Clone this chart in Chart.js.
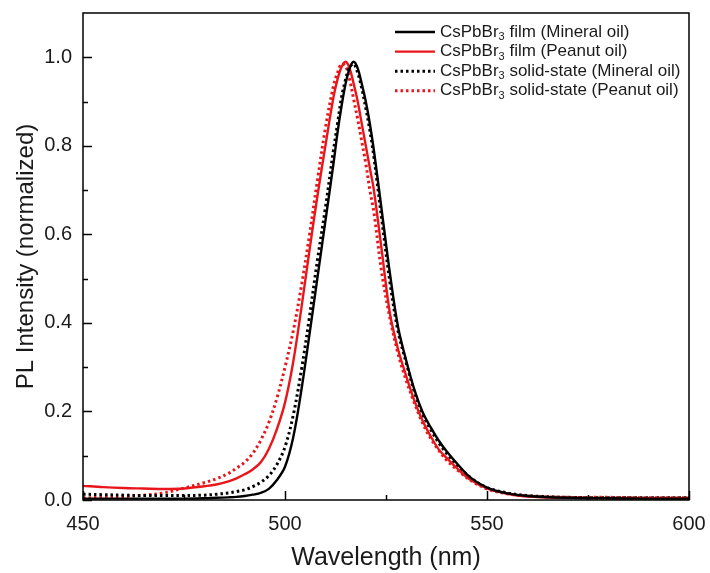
<!DOCTYPE html>
<html>
<head>
<meta charset="utf-8">
<script src="https://cdn.jsdelivr.net/npm/chart.js@4.4.1/dist/chart.umd.min.js"></script>
<style>
  html, body { margin: 0; padding: 0; background: #fff; }
  #wrap { width: 710px; height: 573px; }
</style>
</head>
<body>
<div id="wrap"><canvas id="pl" width="710" height="573"></canvas></div>
<script>
// wavelength grid (nm) shared by all four spectra
const wavelength = [450, 455, 460, 465, 470, 475, 480, 483, 486, 488, 490, 492, 494, 496, 498,
    500, 502, 504, 506, 508, 510, 512, 513, 514, 515, 516, 517, 518, 519, 520, 521, 522,
    524, 526, 528, 530, 532, 534, 536, 538, 540, 543, 546, 550, 555, 560, 570, 580, 590, 600];

const filmMineral = [0.003, 0.003, 0.003, 0.003, 0.003, 0.003, 0.004, 0.005, 0.006, 0.007, 0.009, 0.012, 0.016, 0.025, 0.045,
    0.075, 0.14, 0.245, 0.37, 0.50, 0.63, 0.76, 0.83, 0.89, 0.94, 0.975, 0.99, 0.975, 0.94, 0.90, 0.85, 0.79,
    0.65, 0.51, 0.39, 0.315, 0.25, 0.20, 0.165, 0.135, 0.11, 0.078, 0.05, 0.028, 0.015, 0.009, 0.005, 0.004, 0.003, 0.003];

const filmPeanut = [0.032, 0.029, 0.027, 0.026, 0.025, 0.026, 0.031, 0.035, 0.042, 0.049, 0.058, 0.069, 0.085, 0.115, 0.16,
    0.22, 0.31, 0.43, 0.56, 0.685, 0.80, 0.91, 0.95, 0.978, 0.99, 0.975, 0.94, 0.90, 0.85, 0.80, 0.75, 0.70,
    0.56, 0.42, 0.34, 0.28, 0.225, 0.18, 0.145, 0.115, 0.095, 0.068, 0.045, 0.026, 0.014, 0.008, 0.005, 0.004, 0.004, 0.004];

const solidMineral = [0.013, 0.012, 0.011, 0.010, 0.010, 0.010, 0.011, 0.013, 0.016, 0.019, 0.023, 0.030, 0.040, 0.055, 0.08,
    0.12, 0.19, 0.29, 0.41, 0.54, 0.66, 0.79, 0.85, 0.91, 0.95, 0.978, 0.985, 0.965, 0.93, 0.885, 0.835, 0.775,
    0.63, 0.49, 0.38, 0.31, 0.245, 0.195, 0.16, 0.13, 0.105, 0.075, 0.05, 0.028, 0.016, 0.010, 0.006, 0.005, 0.005, 0.005];

const solidPeanut = [0.005, 0.006, 0.008, 0.011, 0.016, 0.027, 0.039, 0.048, 0.06, 0.072, 0.085, 0.105, 0.135, 0.175, 0.23,
    0.30, 0.38, 0.48, 0.595, 0.72, 0.84, 0.935, 0.965, 0.985, 0.98, 0.95, 0.905, 0.86, 0.81, 0.76, 0.70, 0.65,
    0.51, 0.41, 0.33, 0.27, 0.22, 0.175, 0.14, 0.113, 0.09, 0.065, 0.044, 0.025, 0.014, 0.009, 0.006, 0.006, 0.005, 0.005];

const seriesLabels = [
    'CsPbBr3 film (Mineral oil)',
    'CsPbBr3 film (Peanut oil)',
    'CsPbBr3 solid-state (Mineral oil)',
    'CsPbBr3 solid-state (Peanut oil)'
];

const xTickValues = [450, 500, 550, 600];
const xMinorTicks = [475, 525, 575];
const yTickValues = [0, 0.2, 0.4, 0.6, 0.8, 1.0];
const yMinorTicks = [0.1, 0.3, 0.5, 0.7, 0.9];

const FONT = "'Liberation Sans', Arial, sans-serif";

function toPoints(values) {
    return wavelength.map((w, i) => ({ x: w, y: values[i] }));
}

function makeSet(label, values, color, dotted) {
    return {
        label: label,
        data: toPoints(values),
        borderColor: color,
        backgroundColor: color,
        borderWidth: dotted ? 3 : 2.4,
        borderDash: dotted ? [2.5, 3] : [],
        pointRadius: 0,
        tension: 0.35,
        fill: false
    };
}

// drop the label overhang padding so the plot box sits where the layout says
function noOverhang(scale) {
    scale.paddingTop = 0;
    scale.paddingBottom = 0;
    scale.paddingLeft = 0;
    scale.paddingRight = 0;
}

// inward major/minor ticks and the box around the plot
const frameTicks = {
    id: 'frameTicks',
    afterDatasetsDraw(chart) {
        const { ctx, chartArea: a, scales } = chart;
        ctx.save();
        ctx.strokeStyle = '#000';
        ctx.lineWidth = 1.5;
        ctx.setLineDash([]);
        ctx.strokeRect(a.left, a.top, a.right - a.left, a.bottom - a.top);

        function xTick(v, len) {
            const px = Math.round(scales.x.getPixelForValue(v)) + 0.5;
            ctx.beginPath();
            ctx.moveTo(px, a.bottom);
            ctx.lineTo(px, a.bottom - len);
            ctx.stroke();
        }
        function yTick(v, len) {
            const py = Math.round(scales.y.getPixelForValue(v)) + 0.5;
            ctx.beginPath();
            ctx.moveTo(a.left, py);
            ctx.lineTo(a.left + len, py);
            ctx.stroke();
        }
        xTickValues.forEach(v => xTick(v, 9));
        xMinorTicks.forEach(v => xTick(v, 5));
        yTickValues.forEach(v => yTick(v, 9));
        yMinorTicks.forEach(v => yTick(v, 5));
        ctx.restore();
    }
};

// legend inside the plot with subscript 3
const insideLegend = {
    id: 'insideLegend',
    afterDraw(chart) {
        const { ctx, chartArea: a } = chart;
        const x0 = a.right - 294;
        const y0 = 32;
        const step = 19.6;
        ctx.save();
        chart.data.datasets.forEach((ds, i) => {
            const y = y0 + i * step;
            ctx.strokeStyle = ds.borderColor;
            ctx.lineWidth = ds.borderWidth;
            ctx.setLineDash(ds.borderDash);
            ctx.beginPath();
            ctx.moveTo(x0, y);
            ctx.lineTo(x0 + 40, y);
            ctx.stroke();
            ctx.setLineDash([]);

            const m = ds.label.match(/^(CsPbBr)(3)(.*)$/);
            let tx = x0 + 45;
            ctx.fillStyle = '#1a1a1a';
            ctx.textBaseline = 'middle';
            ctx.textAlign = 'left';
            ctx.font = '17px ' + FONT;
            ctx.fillText(m[1], tx, y);
            tx += ctx.measureText(m[1]).width;
            ctx.font = '11px ' + FONT;
            ctx.fillText(m[2], tx, y + 5);
            tx += ctx.measureText(m[2]).width;
            ctx.font = '17px ' + FONT;
            ctx.fillText(m[3], tx, y);
        });
        ctx.restore();
    }
};

new Chart(document.getElementById('pl'), {
    type: 'line',
    data: {
        datasets: [
            makeSet(seriesLabels[0], filmMineral, '#000000', false),
            makeSet(seriesLabels[1], filmPeanut, '#e8161b', false),
            makeSet(seriesLabels[2], solidMineral, '#000000', true),
            makeSet(seriesLabels[3], solidPeanut, '#e8161b', true)
        ]
    },
    options: {
        responsive: false,
        animation: false,
        layout: { padding: { top: 13, right: 21, left: 0, bottom: 0 } },
        plugins: {
            legend: { display: false },
            tooltip: { enabled: false }
        },
        scales: {
            x: {
                type: 'linear',
                min: 450,
                max: 600,
                afterBuildTicks: scale => { scale.ticks = xTickValues.map(v => ({ value: v })); },
                afterFit: scale => { scale.height = 73; noOverhang(scale); },
                grid: { display: false, drawTicks: false },
                border: { display: false },
                ticks: {
                    padding: 12,
                    color: '#1a1a1a',
                    font: { family: FONT, size: 20 },
                    maxRotation: 0
                },
                title: {
                    display: true,
                    text: 'Wavelength (nm)',
                    color: '#1a1a1a',
                    font: { family: FONT, size: 25 },
                    padding: { top: 0, bottom: 0 }
                }
            },
            y: {
                min: 0,
                max: 1.1,
                afterBuildTicks: scale => { scale.ticks = yTickValues.map(v => ({ value: v })); },
                afterFit: scale => { scale.width = 83; noOverhang(scale); },
                grid: { display: false, drawTicks: false },
                border: { display: false },
                ticks: {
                    padding: 11,
                    color: '#1a1a1a',
                    font: { family: FONT, size: 20 },
                    callback: v => v.toFixed(1)
                },
                title: {
                    display: true,
                    text: 'PL Intensity (normalized)',
                    color: '#1a1a1a',
                    font: { family: FONT, size: 24 },
                    padding: { top: 12, bottom: 0 }
                }
            }
        }
    },
    plugins: [frameTicks, insideLegend]
});
</script>
</body>
</html>
